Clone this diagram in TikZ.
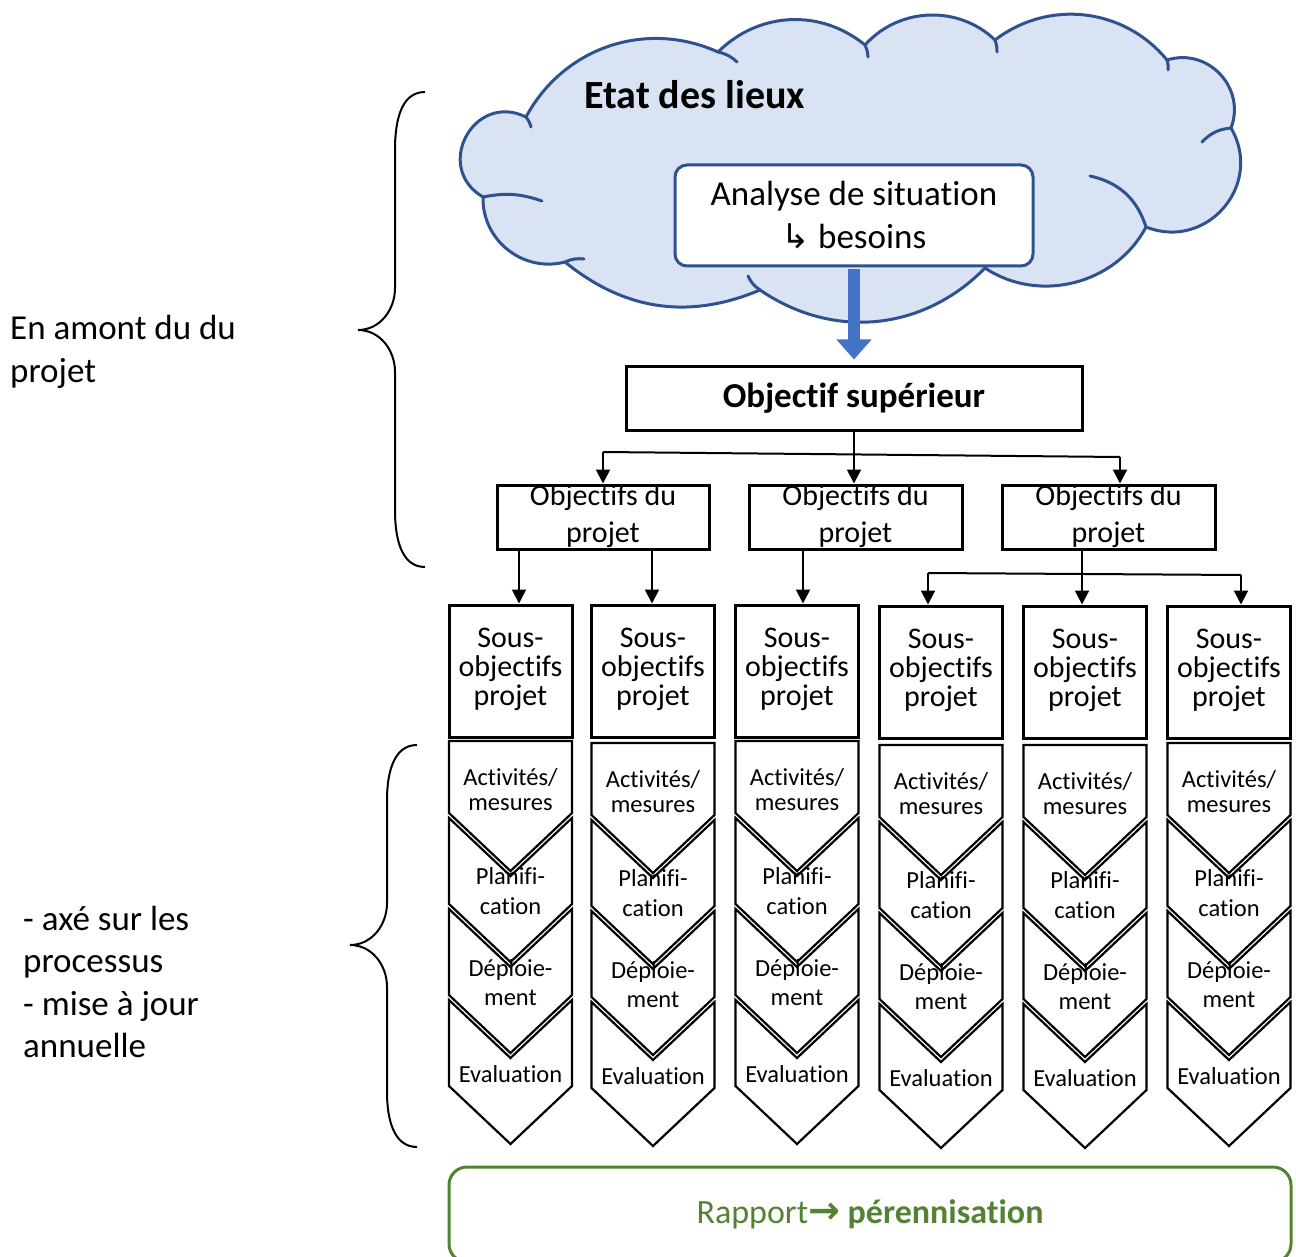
\documentclass[tikz,border=0pt]{standalone}
\usepackage{fontspec}
\setmainfont{Carlito}[Ligatures=NoCommon]
\newfontfamily\dejavu{DejaVu Sans}
\usetikzlibrary{arrows.meta}
\definecolor{cloudfill}{HTML}{DAE3F3}
\definecolor{cloudline}{HTML}{2F528F}
\definecolor{arrowblue}{HTML}{4472C4}
\definecolor{rapgreen}{HTML}{548235}
\begin{document}
\begin{tikzpicture}[x=1pt,y=1pt,
  cloudstyle/.style={draw=cloudline, fill=cloudfill, line width=3pt, line join=round},
  crease/.style={draw=cloudline, line width=3pt, line cap=round},
  blkbox/.style={draw=black, line width=3pt, fill=white, inner sep=0pt},
  chev/.style={draw=black, line width=2.2pt, line join=miter},
  conn/.style={draw=black, line width=2pt},
  arr/.style={conn, -{Triangle[width=14pt,length=14pt]}},
  brace/.style={draw=black, line width=2pt},
  optext/.style={align=center, inner sep=0pt, font=\fontsize{30}{37}\selectfont},
  sotext/.style={align=center, inner sep=0pt, font=\fontsize{30}{29}\selectfont},
  chtext/.style={align=center, inner sep=0pt},
  lefttext/.style={align=left, inner sep=0pt, font=\fontsize{35}{42.5}\selectfont}
]
\useasboundingbox (0,0) rectangle (1296,-1257);

% cloud
\path[cloudstyle] (526,-117) to[bend left=43] (718,-52) to[bend left=42] (865,-45)
  to[bend left=46] (995,-40) to[bend left=44] (1167,-60)
  to[bend left=64, looseness=1.18] (1231,-128)
  to[bend left=71, looseness=1.28] (1146,-227)
  to[bend left=48] (985,-268) to[bend left=40] (760,-290)
  to[bend left=31] (565,-262) to[bend left=53, looseness=1.06] (483,-197)
  to[bend left=88, looseness=1.64] (526,-117) -- cycle;
\draw[crease] (718,-52) to[bend left=15] (737,-62);
\draw[crease] (865,-45) to[bend left=10] (868,-57);
\draw[crease] (995,-40) to[bend left=10] (997,-52);
\draw[crease] (1167,-60) to[bend left=10] (1168,-70);
\draw[crease] (1231,-128) to[bend right=20] (1202,-142);
\draw[crease] (1146,-227) to[bend right=30] (1090,-176);
\draw[crease] (760,-290) to[bend left=15] (748,-276);
\draw[crease] (565,-262) to[bend left=15] (584,-259);
\draw[crease] (483,-197) to[bend left=15] (542,-201);
\draw[crease] (526,-117) to[bend left=10] (531,-127);

\node[anchor=west, inner sep=0pt, font=\fontsize{40}{48}\selectfont\bfseries] (etat) at (584,-95) {Etat des lieux};

\node[draw=cloudline, line width=3pt, fill=white, rounded corners=12pt,
  minimum width=358pt, minimum height=101pt, inner sep=0pt, align=center,
  font=\fontsize{35}{43}\selectfont] (ana) at (854,-215.5)
  {Analyse de situation\\{\dejavu\fontsize{34}{34}\selectfont ↳} besoins};

% top level box
\node[blkbox, minimum width=456pt, minimum height=64pt, font=\fontsize{35}{42}\selectfont\bfseries] (osup) at (854,-398) {Objectif supérieur};
\draw[line width=12pt, draw=arrowblue, -{Triangle[width=34pt,length=20pt]}] ([yshift=-1.5pt]ana.south) -- ([yshift=5pt]osup.north);

% project objectives
\node[blkbox, minimum width=212pt, minimum height=64pt] (op1) at (603,-517) {};
\node[blkbox, minimum width=213pt, minimum height=64pt] (op2) at (855.5,-517) {};
\node[blkbox, minimum width=213pt, minimum height=64pt] (op3) at (1108.5,-517) {};
\node[optext] (op1t) at (603,-516) {Objectifs du\\projet};
\node[optext] (op2t) at (855.5,-516) {Objectifs du\\projet};
\node[optext] (op3t) at (1108.5,-516) {Objectifs du\\projet};

\coordinate (h1) at (603,-452);
\coordinate (h3) at (1120,-457);
\draw[conn] (h1) -- (h3);
\draw[arr] (osup.south) -- (osup.south |- op2.north);
\draw[arr] (h1) -- (h1 |- op1.north);
\draw[arr] (h3) -- (h3 |- op3.north);

% sub-objective columns
\foreach \i/\xc/\dy/\sdy in {1/510.5/0/0, 2/653/2/0, 3/797/0/0, 4/941/4/1, 5/1085/4/1, 6/1229/2/1} {
  \node[blkbox, minimum width=123pt, minimum height=132pt] (so\i) at ({\xc},{-671-\sdy}) {};
  \node[sotext] (so\i t) at ({\xc},{-669-\sdy}) {Sous-\\objectifs\\projet};
  \node[chtext, font=\fontsize{24.5}{25}\selectfont] (ac\i) at ({\xc},{-790-\dy}) {Activités/\\mesures};
  \node[chtext, font=\fontsize{24.5}{30}\selectfont] (pl\i) at ({\xc},{-891-\dy}) {Planifi-\\cation};
  \node[chtext, font=\fontsize{24.5}{29}\selectfont] (de\i) at ({\xc},{-983-\dy}) {Déploie-\\ment};
  \node[chtext, font=\fontsize{24.5}{29}\selectfont] (ev\i) at ({\xc},{-1074-\dy}) {Evaluation};
  \draw[chev] ({\xc-61.5},{-741-\dy}) -- ({\xc+61.5},{-741-\dy}) -- ({\xc+61.5},{-813-\dy})
     -- ({\xc},{-871-\dy}) -- ({\xc-61.5},{-813-\dy}) -- cycle;
  \foreach \k in {0,1,2} {
    \pgfmathsetmacro{\yt}{818+91*\k+\dy}
    \draw[chev] ({\xc-61.5},{-\yt}) -- ({\xc},{-\yt-58}) -- ({\xc+61.5},{-\yt})
      -- ({\xc+61.5},{-\yt-86}) -- ({\xc},{-\yt-144}) -- ({\xc-61.5},{-\yt-86}) -- cycle;
  }
}

% arrows to sub-objectives
\coordinate (t1) at (519,-549);
\coordinate (t2) at (652,-549);
\coordinate (t3) at (803,-549);
\coordinate (t5) at (1082,-549);
\coordinate (g4) at (928,-573);
\coordinate (g6) at (1241,-575);
\draw[arr] (t1) -- (t1 |- so1.north);
\draw[arr] (t2) -- (t2 |- so2.north);
\draw[arr] (t3) -- (t3 |- so3.north);
\draw[arr] (t5) -- (t5 |- so5.north);
\draw[conn] (g4) -- (g6);
\draw[arr] (g4) -- (g4 |- so4.north);
\draw[arr] (g6) -- (g6 |- so6.north);

% braces
\draw[brace] (425,-92) to[out=180,in=90] (395,-150) -- (395,-288) to[out=-90,in=0] (358,-330)
  to[out=0,in=90] (395,-372) -- (395,-510) to[out=-90,in=180] (425,-567);
\draw[brace] (417,-745) to[out=180,in=90] (387,-800) -- (387,-903) to[out=-90,in=0] (350,-945)
  to[out=0,in=90] (387,-987) -- (387,-1092) to[out=-90,in=180] (417,-1147);

\node[lefttext, anchor=west] (amont) at (10,-352) {En amont du du\\projet};
\node[lefttext, anchor=west] (axe) at (23,-982) {- axé sur les\\processus\\- mise à jour\\annuelle};

% report
\node[draw=rapgreen, line width=3pt, rounded corners=18pt, minimum width=842pt,
  minimum height=95pt, inner sep=0pt, text=rapgreen, font=\fontsize{34}{41}\selectfont]
  (rap) at (870,-1214.5) {Rapport{\dejavu\bfseries\fontsize{38}{38}\selectfont →} \textbf{pérennisation}};
\end{tikzpicture}
\end{document}
